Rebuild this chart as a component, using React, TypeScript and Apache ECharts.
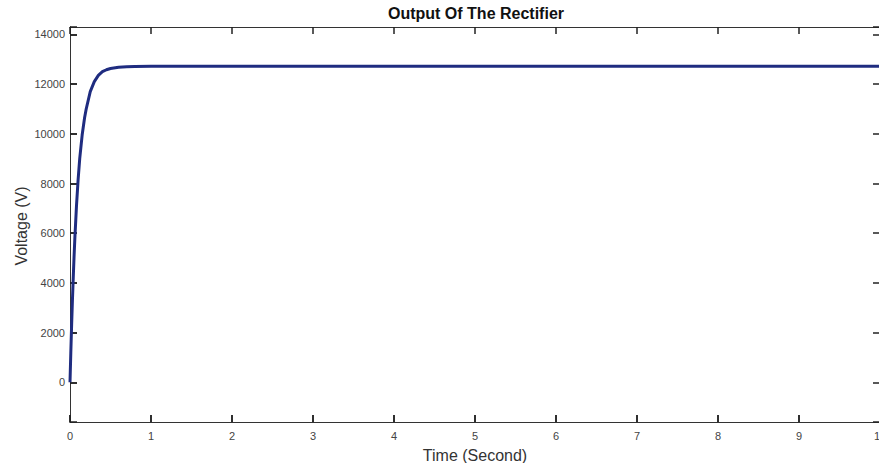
import React, { useEffect, useRef } from "react";
import * as echarts from "echarts";

const titleText = "Output Of The Rectifier";
const xName = "Time (Second)";
const yName = "Voltage (V)";

const timeValues = [0, 0.01, 0.02, 0.03, 0.04, 0.05, 0.06, 0.08, 0.1, 0.12, 0.15, 0.18, 0.2, 0.25, 0.3, 0.35, 0.4, 0.45, 0.5, 0.6, 0.7, 0.8, 1, 2, 3, 4, 5, 6, 7, 8, 9, 10];
const voltageValues = [0, 1200, 2300, 3300, 4200, 5050, 5800, 7100, 8150, 9000, 9950, 10650, 11000, 11700, 12100, 12350, 12500, 12580, 12630, 12680, 12700, 12710, 12720, 12720, 12720, 12720, 12720, 12720, 12720, 12720, 12720, 12720];

const FONT = "'Liberation Sans', Arial, sans-serif";

export default function App() {
  const ref = useRef<HTMLDivElement>(null);
  useEffect(() => {
    if (!ref.current) return;
    const chart = echarts.init(ref.current, undefined, { renderer: "svg" });
    const data = timeValues.map((t, i) => [t, voltageValues[i]]);
    const tickLabel = { color: "#444", fontSize: 11, fontFamily: FONT };
    const tick = { show: true, inside: true, length: 7, lineStyle: { color: "#222", width: 1.5 } };
    const line = { show: true, onZero: false, lineStyle: { color: "#333", width: 1 } };
    const xBase = { type: "value", min: 0, max: 10, interval: 1, axisLine: line, axisTick: tick, splitLine: { show: false } };
    const yBase = { type: "value", min: -1600, max: 14300, splitNumber: 8, axisLine: line, axisTick: tick, splitLine: { show: false } };
    chart.setOption({
      animation: false,
      backgroundColor: "#fff",
      graphic: [
        {
          type: "text",
          x: 476,
          y: 5,
          style: { text: titleText, align: "center", verticalAlign: "top", fontSize: 16, fontWeight: "bold", fontFamily: FONT, fill: "#111" },
        },
        {
          type: "text",
          x: 475,
          y: 455,
          style: { text: xName, align: "center", verticalAlign: "middle", fontSize: 16, fontFamily: FONT, fill: "#333" },
        },
        {
          type: "text",
          x: 21,
          y: 226,
          rotation: Math.PI / 2,
          style: { text: yName, align: "center", verticalAlign: "middle", fontSize: 16, fontFamily: FONT, fill: "#333" },
        },
      ],
      grid: { left: 70, right: 10, top: 27, bottom: 41, containLabel: false },
      xAxis: [
        { ...xBase, position: "bottom", axisLabel: { ...tickLabel, margin: 8 } },
        { ...xBase, position: "top", axisLabel: { show: false } },
        { ...xBase, position: "bottom", offset: 0, axisLabel: { show: false } },
      ],
      yAxis: [
        {
          ...yBase,
          position: "left",
          axisLabel: {
            ...tickLabel,
            margin: 5,
            showMinLabel: false,
            showMaxLabel: false,
            formatter: (v: number) => (v % 2000 === 0 ? String(v) : ""),
          },
        },
        { ...yBase, position: "right", axisLabel: { show: false } },
        { ...yBase, position: "left", offset: 0, axisLabel: { show: false } },
      ],
      series: [
        {
          type: "line",
          xAxisIndex: 0,
          yAxisIndex: 0,
          data,
          showSymbol: false,
          smooth: false,
          lineStyle: { color: "#1f2c80", width: 3 },
        },
      ],
    });
    return () => chart.dispose();
  }, []);
  return (
    <div style={{ position: "fixed", left: 0, top: 0, width: 879, height: 463, overflow: "hidden", background: "#fff" }}>
      <div ref={ref} style={{ width: 890, height: 463 }} />
    </div>
  );
}
